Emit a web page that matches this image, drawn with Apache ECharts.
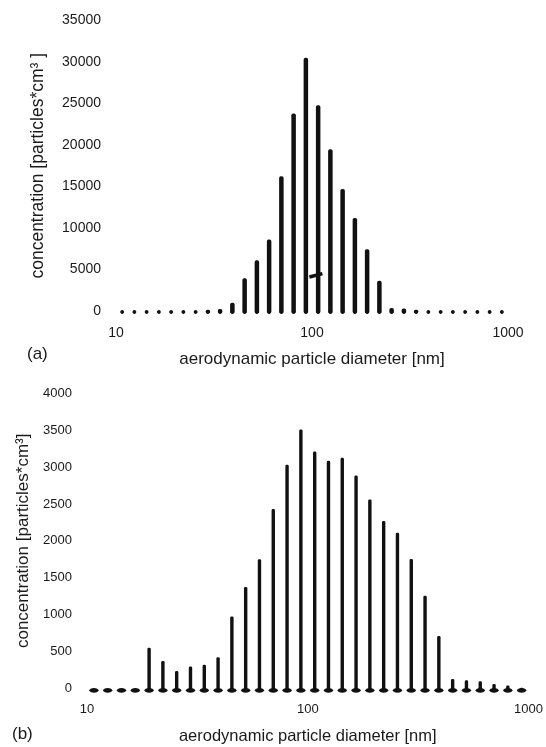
<!DOCTYPE html>
<html>
<head>
<meta charset="utf-8">
<script src="https://cdn.jsdelivr.net/npm/echarts@6.0.0/dist/echarts.min.js"></script>
<style>
  html, body { margin: 0; padding: 0; background: #fff; }
  #chart { width: 546px; height: 747px; }
</style>
</head>
<body>
<div id="chart"></div>
<script>
// Channel mid-point diameters [nm], 16 channels per decade
const diameters = [
  10.75, 12.41, 14.33, 16.55, 19.11, 22.07, 25.48, 29.43,
  33.98, 39.24, 45.32, 52.33, 60.43, 69.78, 80.58, 93.06,
  107.5, 124.1, 143.3, 165.5, 191.1, 220.7, 254.8, 294.3,
  339.8, 392.4, 453.2, 523.3, 604.3, 697.8, 805.8, 930.6
];

// Panel (a): number concentration per channel [particles*cm^-3]
const concA = [
  0, 0, 0, 0, 0, 0, 0, 150,
  250, 1000, 3950, 6100, 8600, 16250, 23800, 30500,
  24800, 19500, 14700, 11200, 7450, 3650, 350, 300,
  150, 0, 0, 0, 0, 0, 0, 0
];

// Panel (b): number concentration per channel [particles*cm^-3]
const concB = [
  0, 0, 0, 0, 550, 370, 233, 296,
  318, 422, 975, 1373, 1750, 2430, 3030, 3510,
  3210, 3085, 3125, 2885, 2560, 2270, 2108, 1753,
  1255, 710, 125, 110, 95, 60, 38, 8
];

// Short arrow stroke drawn on panel (a)
const arrowA = [[97, 4100], [113, 4500]];

const yTicksA = { min: 0, max: 35000, step: 5000 };
const yTicksB = { min: 0, max: 4000, step: 500 };
const xRange = { min: 10, max: 1000 };

const ink = '#111';
const font = 'Liberation Sans, Arial, Helvetica, sans-serif';
const plain = (v) => String(Math.round(v));

// Vertical stick from zero to the value, with a small blob at the foot
function stickItem(opt) {
  return function (params, api) {
    const d = api.value(0);
    const v = api.value(1);
    const base = api.coord([d, 0]);
    const top = api.coord([d, v]);
    const children = [];
    const h = base[1] - top[1];
    if (h > 0.5) {
      children.push({
        type: 'rect',
        shape: { x: base[0] - opt.barW / 2, y: top[1], width: opt.barW, height: h + opt.tail, r: opt.barW / 2.5 },
        style: { fill: ink }
      });
    }
    children.push({
      type: 'ellipse',
      shape: { cx: base[0], cy: base[1] + opt.footDy, rx: opt.footRx, ry: opt.footRy },
      style: { fill: ink }
    });
    return { type: 'group', children: children };
  };
}

function xAxisCfg(gridIndex, fontSize, nameSize) {
  return {
    type: 'log', logBase: 10, gridIndex: gridIndex,
    min: xRange.min, max: xRange.max,
    name: 'aerodynamic particle diameter [nm]',
    nameLocation: 'middle', nameGap: 40,
    nameTextStyle: { fontFamily: font, fontSize: nameSize, color: '#1a1a1a' },
    axisLine: { show: false }, axisTick: { show: false }, splitLine: { show: false },
    axisLabel: { margin: 15, fontFamily: font, fontSize: fontSize, color: '#1a1a1a', formatter: plain }
  };
}

function yAxisCfg(gridIndex, ticks, name, gap, fontSize, nameSize) {
  return {
    type: 'value', gridIndex: gridIndex,
    min: ticks.min, max: ticks.max, interval: ticks.step,
    name: name, nameLocation: 'middle', nameRotate: 90, nameGap: gap,
    nameTextStyle: { fontFamily: font, fontSize: nameSize, color: '#1a1a1a' },
    axisLine: { show: false }, axisTick: { show: false }, splitLine: { show: false },
    axisLabel: { margin: 15, fontFamily: font, fontSize: fontSize, color: '#1a1a1a', formatter: plain }
  };
}

const chart = echarts.init(document.getElementById('chart'), null, { renderer: 'canvas' });

chart.setOption({
  backgroundColor: '#fff',
  animation: false,
  grid: [
    { left: 116, width: 392, top: 20.5, height: 290.5 },
    { left: 87, width: 444, top: 393.3, height: 295 }
  ],
  xAxis: [
    xAxisCfg(0, 14, 17),
    xAxisCfg(1, 13, 16.5)
  ],
  yAxis: [
    yAxisCfg(0, yTicksA, 'concentration [particles*cm\u00B3 ]', 69, 14, 17.5),
    yAxisCfg(1, yTicksB, 'concentration [particles*cm\u00B3]', 55, 13, 17)
  ],
  graphic: [
    { type: 'text', left: 27, top: 346, style: { text: '(a)', font: '17px ' + font, fill: '#1a1a1a' } },
    { type: 'text', left: 12, top: 726, style: { text: '(b)', font: '17px ' + font, fill: '#1a1a1a' } }
  ],
  series: [
    {
      type: 'custom', xAxisIndex: 0, yAxisIndex: 0,
      data: diameters.map((d, i) => [d, concA[i]]),
      renderItem: stickItem({ barW: 4.5, tail: 2.5, footDy: 1, footRx: 1.9, footRy: 1.9 }),
      markLine: {
        silent: true, symbol: ['none', 'none'], label: { show: false },
        lineStyle: { color: ink, width: 3.5, type: 'solid' },
        data: [[{ coord: arrowA[0] }, { coord: arrowA[1] }]]
      }
    },
    {
      type: 'custom', xAxisIndex: 1, yAxisIndex: 1,
      data: diameters.map((d, i) => [d, concB[i]]),
      renderItem: stickItem({ barW: 3.4, tail: 2, footDy: 2, footRx: 4.6, footRy: 2.4 })
    }
  ]
});
</script>
</body>
</html>
